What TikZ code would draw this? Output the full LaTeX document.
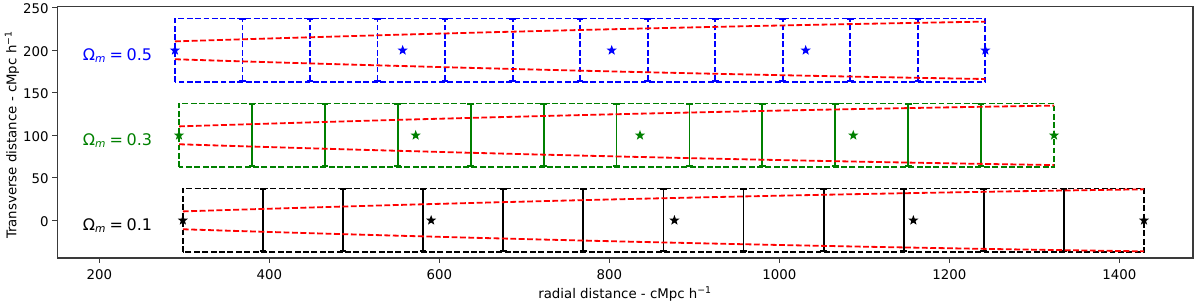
\documentclass[tikz,border=0pt]{standalone}
\usepackage{fontspec}
\setmainfont{DejaVu Sans}
\usetikzlibrary{arrows.meta,shapes.geometric}
\definecolor{mplblue}{HTML}{0000FF}
\definecolor{mplgreen}{HTML}{008000}
\definecolor{mplred}{HTML}{FF0000}
\definecolor{spine}{HTML}{3A3A3A}

\begin{document}
\begin{tikzpicture}[x=0.6375pt, y=0.6375pt,
    mpldash/.style={dash pattern=on 4.4pt off 1.9pt},
    binbox/.style={mpldash, line width=1.35pt},
    binedge/.style={line width=1.35pt, arrows={Bar[width=5pt,line width=1.35pt]-Bar[width=5pt,line width=1.35pt]}},
    cone/.style={mplred, mpldash, line width=1.35pt},
    halo/.style={star, star points=5, star point ratio=2.4, minimum size=8pt, inner sep=0pt, fill},
    axisline/.style={spine, line width=0.9pt},
    ticklab/.style={font=\fontsize{10}{12}\selectfont, inner sep=0pt},
    omlab/.style={font=\fontsize{12}{14}\selectfont, inner sep=0pt, anchor=base west}]
\useasboundingbox (83.2,-96.1) rectangle (1494.9,259.2);
\foreach \yc/\om/\xl/\xr/\col/\edge/\stars in {%
    0/1/298.3/1429/black/solid/{298.3,590.4,876.6,1157.7,1429},%
    100/3/293.8/1323.2/mplgreen/solid/{293.8,572.2,836.1,1087,1323.2},%
    200/5/289/1242.4/mplblue/mpldash/{289,556.9,802.8,1031,1242.4}%
}{
    \pgfmathsetmacro\len{(\xr-\xl)/100}
    \draw[binbox, \col] (\xl,\yc-37.5) rectangle (\xr,\yc+37.5);
    \foreach \k in {1,...,11}
        \draw[binedge, \col, \edge] ({\xl+\k*(\xr-\xl)/12},\yc-37.5) -- ({\xl+\k*(\xr-\xl)/12},\yc+37.5);
    \draw[cone] plot[domain=0:\len, samples=40] ({\xl+100*\x},{\yc+10.5+3.19*\x-0.0789*\x*\x});
    \draw[cone] plot[domain=0:\len, samples=40] ({\xl+100*\x},{\yc-10.5-3.19*\x+0.0789*\x*\x});
    \foreach \xs [count=\i] in \stars
        \node[halo, \col] (star\yc-\i) at (\xs,\yc) {};
    \node[omlab, text=\col] (om\yc) at (180.5,\yc-11.4) {Ω\textsubscript{\textit{m}}\hspace{2.6pt}=\hspace{2.6pt}0.\om};
}
\draw[axisline] (150.6,-44.4) rectangle (1486.7,251.3);
\foreach \xt in {200,400,...,1400}{
    \draw[axisline] (\xt,-44.4) -- ++(0,-5.9);
    \node[ticklab] (xt\xt) at (\xt,-64.4) {\xt};
}
\foreach \yt in {0,50,...,250}{
    \draw[axisline] (150.6,\yt) -- ++(-5.9,0);
    \node[ticklab, anchor=east] (yt\yt) at (140.8,\yt-1.5) {\yt};
}
\node[ticklab] (xlab) at (818.5,-86.7) {radial distance - cMpc h\textsuperscript{−1}};
\node[ticklab, rotate=90] (ylab) at (97.3,100.4) {Transverse distance - cMpc h\textsuperscript{−1}};
\end{tikzpicture}
\end{document}
